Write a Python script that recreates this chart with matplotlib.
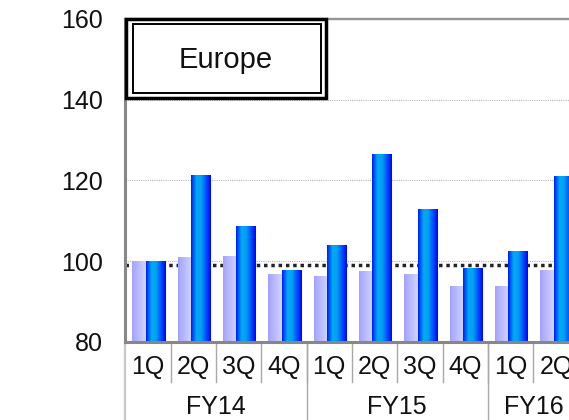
import numpy as np
import matplotlib
matplotlib.use("Agg")
import matplotlib.pyplot as plt
from matplotlib.colors import LinearSegmentedColormap
from matplotlib.patches import Rectangle
from matplotlib.lines import Line2D

# ---- data ----
quarters = ["1Q", "2Q", "3Q", "4Q", "1Q", "2Q", "3Q", "4Q", "1Q", "2Q"]
fiscal_years = ["FY14", "FY15", "FY16"]
quarters_per_year = [4, 4, 2]
series_light = [100.0, 101.0, 101.2, 96.8, 96.3, 97.5, 96.8, 93.8, 93.8, 97.8]
series_dark = [100.0, 121.3, 108.7, 97.8, 104.0, 126.5, 112.9, 98.3, 102.5, 121.1]
reference_level = 99.1
y_ticks = [80, 100, 120, 140, 160]
region = "Europe"

W, H = 569, 420
fig = plt.figure(figsize=(W / 100, H / 100), dpi=100)


def fx(x):
    return x / W


def fy(y):
    return 1 - y / H


label_font = dict(family=["Liberation Sans", "DejaVu Sans"], fontsize=18,
                  color="#111111")

# axes extends slightly past the right edge of the canvas
ax_left, ax_right, ax_top, ax_bottom = 125.2, 578.7, 19.0, 342.0
ax = fig.add_axes([fx(ax_left), fy(ax_bottom), (ax_right - ax_left) / W,
                   (ax_bottom - ax_top) / H])

n = len(quarters)
idx = np.arange(n)

light_cmap = LinearSegmentedColormap.from_list(
    "light", ["#a2a2ff", "#d4d4ff"])
dark_cmap = LinearSegmentedColormap.from_list(
    "dark", [(0.0, "#0018ff"), (0.28, "#00acf0"), (0.5, "#00a2f2"),
             (0.85, "#0030ff"), (1.0, "#0000ff")])
grad = np.linspace(0, 1, 256).reshape(1, -1)

lw_light, lw_dark = 0.295, 0.42
off_light, off_dark = 0.155, 0.45

bars_l = ax.bar(idx + off_light, np.array(series_light) - 80, bottom=80,
                width=lw_light, align="edge", color="none", zorder=2)
bars_d = ax.bar(idx + off_dark, np.array(series_dark) - 80, bottom=80,
                width=lw_dark, align="edge", color="none", zorder=2)
for bars, cmap in ((bars_l, light_cmap), (bars_d, dark_cmap)):
    for b in bars:
        x0, y0 = b.get_x(), b.get_y()
        im = ax.imshow(grad, cmap=cmap, aspect="auto", interpolation="bilinear",
                       extent=[x0, x0 + b.get_width(), y0, y0 + b.get_height()],
                       zorder=2)
        im.set_clip_path(b)

ax.axhline(reference_level, color="#222222", lw=2.5,
           linestyle=(0, (1, 1.1)), zorder=1.5)

ax.set_xlim(0, n)
ax.set_ylim(80, 160)
ax.set_yticks(y_ticks)
ax.set_yticklabels([str(t) for t in y_ticks], **label_font)
ax.tick_params(axis="y", length=0, pad=16)
ax.set_xticks([])

ax.yaxis.grid(True, color="#b5b5b5", lw=0.8, linestyle=(0, (1, 1)))
ax.set_axisbelow(True)

for s in ("left", "bottom"):
    ax.spines[s].set_color("#878787")
    ax.spines[s].set_linewidth(2.2)
ax.spines["top"].set_color("#959595")
ax.spines["top"].set_linewidth(1.7)
ax.spines["right"].set_visible(False)

# category axis below the plot
xt = ax.get_xaxis_transform()
for i, q in enumerate(quarters):
    ax.text(i + 0.5, -0.077, q, transform=xt, ha="center", va="center",
            **label_font)
    if i > 0:
        ax.add_line(Line2D([i, i], [0, -0.124], transform=xt, color="#a8a8a8",
                           lw=1.0, clip_on=False))
start = 0
for fyname, cnt in zip(fiscal_years, quarters_per_year):
    ax.text(start + cnt / 2, -0.201, fyname, transform=xt, ha="center",
            va="center", **label_font)
    col = "#c8c8c8" if start == 0 else "#a8a8a8"
    lwid = 1.6 if start == 0 else 1.0
    ax.add_line(Line2D([start, start], [0, -0.3], transform=xt, color=col,
                       lw=lwid, clip_on=False))
    start += cnt

# framed region label
outer = Rectangle((fx(125.7), fy(98.0)), fx(326.0) - fx(125.7),
                  fy(19.0) - fy(98.0), transform=fig.transFigure,
                  facecolor="white", edgecolor="black", lw=2.5, zorder=5)
inner = Rectangle((fx(132.8), fy(92.5)), fx(320.5) - fx(132.8),
                  fy(24.3) - fy(92.5), transform=fig.transFigure,
                  facecolor="white", edgecolor="black", lw=1.4, zorder=6)
fig.add_artist(outer)
fig.add_artist(inner)
fig.text(fx(226), fy(60), region, ha="center", va="center",
         family=["Liberation Sans", "DejaVu Sans"], fontsize=21,
         color="#111111", zorder=7)

fig.savefig("out.png", dpi=100)
